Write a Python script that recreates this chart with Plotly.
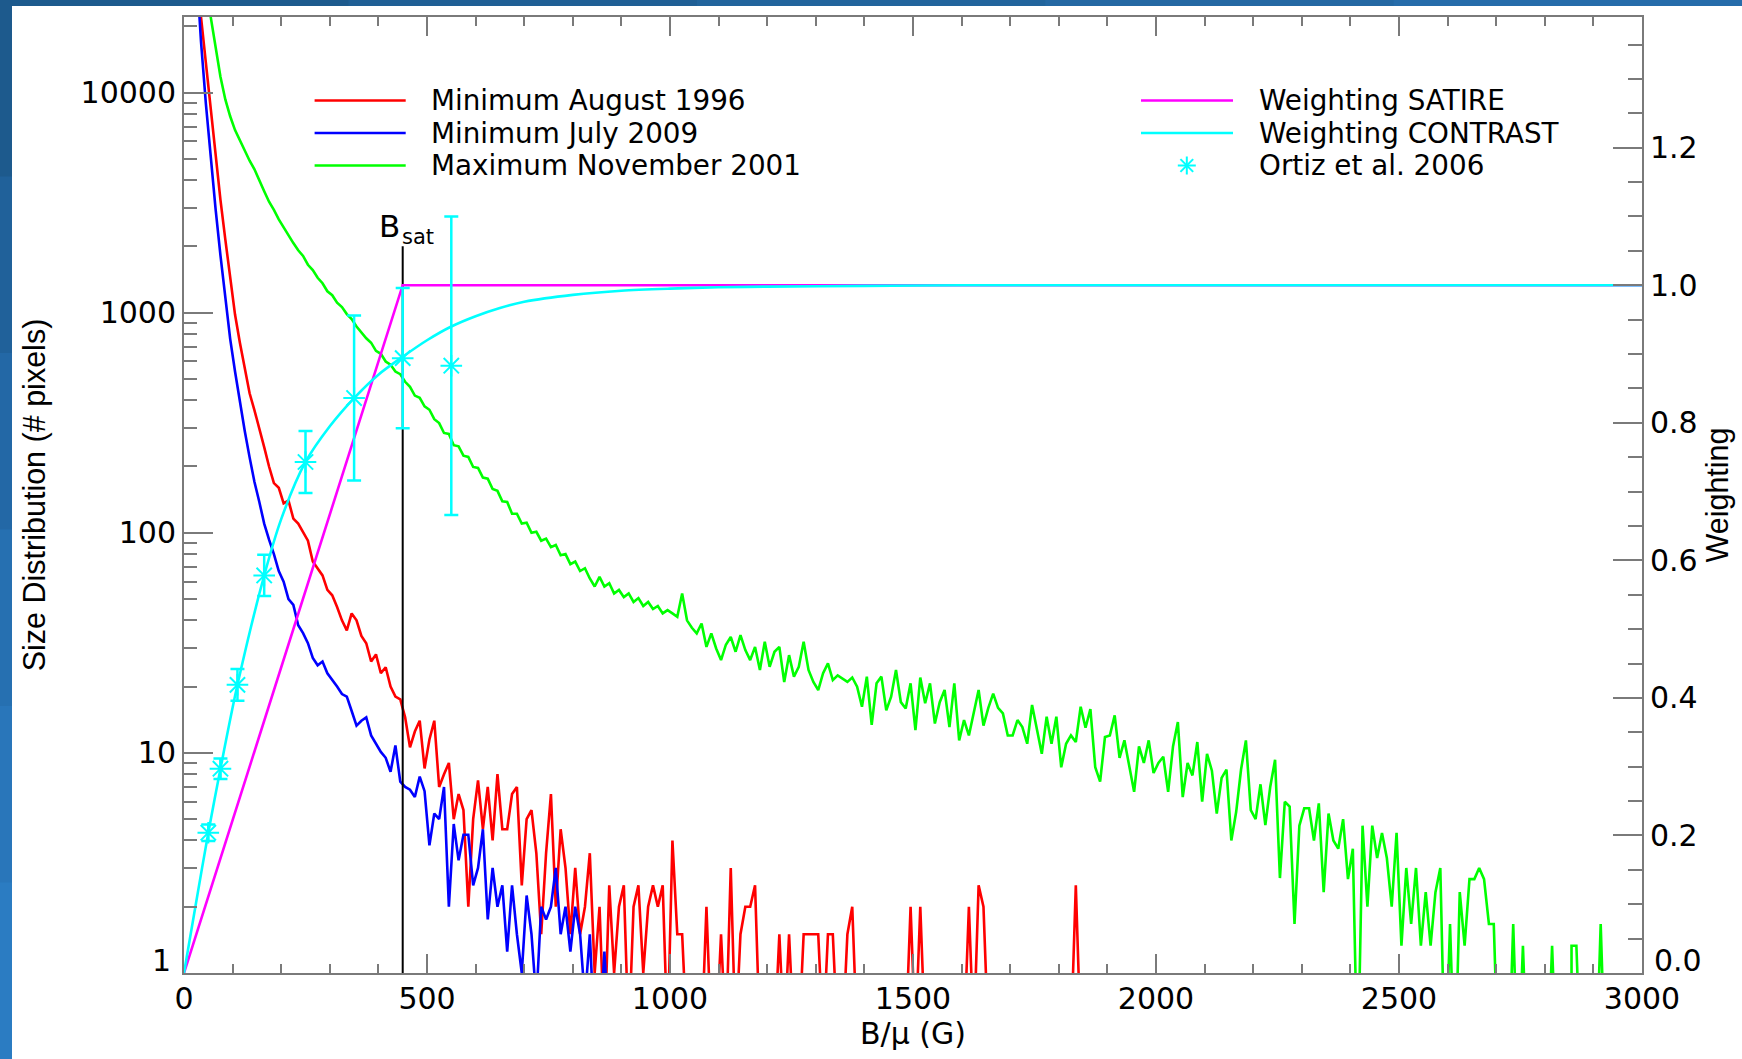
import numpy as np
import plotly.graph_objects as go

# ---------------------------------------------------------------------------
# Size distributions of magnetic elements (pixels per 10 G bin of B/mu)
# ---------------------------------------------------------------------------
BIN_WIDTH = 10      # G
FIRST_BIN = 5       # centre of the first bin, G

MIN_AUG_1996 = [
    100000, 56000, 35000, 22000, 13500, 8300, 5200, 3250, 2150, 1450,
    980, 730, 560, 430, 360, 300, 245, 200, 168, 160,
    136, 140, 116, 110, 100, 92, 74, 69, 64, 55,
    52, 46, 40, 36, 43, 40, 34, 31.5, 26, 28,
    23, 24.5, 20, 18, 17.5, 14.5, 10.6, 12.5, 14, 8.5,
    11.5, 14, 7, 8, 9, 5, 6.5, 5.5, 2, 5,
    7.5, 4.5, 7, 4, 8, 4.5, 4.5, 6.5, 7, 2.5,
    5, 5.5, 3.5, 1.5, 3.5, 6.5, 2, 4.5, 3, 1.5,
    3, 1.5, 2, 3.5, 1, 2, 0.5, 2.5, 1, 2,
    2.5, 0.5, 2, 2.5, 1, 2, 2.5, 2, 2.5, 0.5,
    4, 1.5, 1.5, 0.5, 0.5, 0.5, 0.5, 2, 0.5, 0.5,
    1.5, 0.5, 3, 0.5, 1.5, 2, 2, 2.5, 0.5, 0.5,
    0.5, 0.5, 1.5, 0.5, 1.5, 0.5, 0.5, 1.5, 1.5, 1.5,
    1.5, 0.5, 1.5, 1.5, 0.5, 0.5, 1.5, 2, 0.5, 0.5,
    0.5, 0.5, 0.5, 0.5, 0.5, 0.5, 0.5, 0.5, 0.5, 2,
    0.5, 2, 0.5, 0.5, 0.5, 0.5, 0.5, 0.5, 0.5, 0.5,
    0.5, 2, 0.5, 2.5, 2, 0.5, 0.5, 0.5, 0.5, 0.5,
    0.5, 0.5, 0.5, 0.5, 0.5, 0.5, 0.5, 0.5, 0.5, 0.5,
    0.5, 0.5, 0.5, 2.5, 0.5,
]

MIN_JUL_2009 = [
    200000, 90000, 40000, 17000, 8900, 5000, 2950, 1820, 1150, 760,
    540, 390, 290, 220, 170, 138, 110, 93, 80, 67,
    60, 50, 47, 38, 35, 31.5, 27, 25, 26, 23,
    21.5, 20, 18.5, 18, 15.5, 13.3, 14, 14.5, 12, 11,
    10.1, 9.5, 8.2, 10.8, 7.4, 7, 6.8, 6.3, 7.8, 6.7,
    3.8, 5.3, 5, 7, 2, 4.75, 3.25, 4.25, 4.25, 2.5,
    3, 4.5, 1.75, 3, 2, 2.5, 1.25, 2.5, 1.5, 1,
    2.25, 1.5, 0.75, 2, 1.75, 2, 3, 1.5, 2, 1.25,
    2, 1.5, 0.75, 1.5, 0.5, 0.5, 1.25, 0.5, 0.25,
]

MAX_NOV_2001 = [
    250000, 120000, 75000, 48000, 32000, 22000, 15800, 11800, 9300, 7800,
    6750, 6050, 5480, 4900, 4480, 3970, 3560, 3190, 2930, 2650,
    2440, 2230, 2070, 1920, 1810, 1650, 1560, 1440, 1360, 1250,
    1200, 1110, 1060, 985, 935, 865, 815, 765, 730, 670,
    650, 600, 580, 540, 525, 485, 460, 420, 410, 375,
    362, 328, 315, 284, 281, 250, 247, 224, 221, 199,
    197, 178, 176, 158, 155, 139, 138, 122, 122, 110,
    111, 100, 101, 92, 94, 86, 88, 79, 80, 72,
    74, 67, 69, 62, 57, 63, 57, 59, 53, 55,
    51, 53, 48.5, 50.5, 46.5, 48.5, 45, 46.5, 43, 44.5,
    43, 41.5, 53, 40, 37, 34.9, 38.7, 30.3, 34.9, 29.8,
    26.4, 31, 33.6, 28.8, 34.3, 29.3, 26.4, 30.3, 23.8, 32,
    24.6, 28.8, 30.3, 21, 27.8, 22.2, 24.6, 32, 23.8, 21,
    19.3, 23, 25.5, 21.4, 22.5, 21.7, 21, 22, 20, 16.2,
    22.2, 13.4, 20.7, 22.2, 15.6, 18, 23.8, 17, 15.9, 20.7,
    12.7, 22, 16.8, 20.7, 13.6, 17, 19.3, 13.1, 20.7, 11.4,
    14.1, 12, 15.1, 19.3, 13.3, 16, 18.6, 16, 15.1, 12,
    12, 14.1, 13.1, 11, 16.5, 13, 9.9, 14.6, 11, 14.6,
    8.6, 11, 12, 11.2, 16.2, 13, 15.8, 8.6, 7.4, 11.8,
    12, 14.8, 9.5, 11.4, 8.6, 6.65, 10.7, 9, 11.4, 8.1,
    9, 9.6, 6.65, 10.7, 13.8, 6.3, 9, 7.9, 11.2, 6,
    9.9, 8.3, 5.3, 7.7, 8.4, 4.0, 5.4, 8.4, 11.4, 5.5,
    5, 7.2, 4.7, 7, 9.3, 2.7, 6, 5.7, 1.67, 4.67,
    5.6, 5.6, 4.0, 5.9, 2.33, 5.3, 4.0, 3.67, 5.0, 2.67,
    3.67, 0.33, 4.67, 2.0, 4.67, 3.33, 4.33, 3.33, 2.0, 4.33,
    1.33, 3.0, 1.67, 3.0, 1.33, 2.33, 1.33, 2.33, 3.0, 0.33,
    1.67, 0.33, 2.33, 1.33, 2.67, 2.67, 3.0, 2.67, 1.67, 1.67,
    0.33, 0, 0.33, 1.67, 0.33, 1.33, 0.33, 0, 0, 0,
    0.33, 1.33, 0.33, 0, 0, 1.33, 1.33, 0.33, 0, 0,
    0.33, 1.67, 0.33, 0,
]

# ---------------------------------------------------------------------------
# Weighting functions (right axis)
# ---------------------------------------------------------------------------
SATIRE_B = [0, 450, 3000]
SATIRE_W = [0.0, 1.0, 1.0]

CONTRAST_B = [0, 25, 50, 75, 110, 165, 200, 250, 300, 350, 400, 450, 500,
              550, 600, 650, 700, 800, 900, 1000, 1100, 1200, 1400, 1600,
              2000, 3000]
CONTRAST_W = [0.0, 0.103, 0.204, 0.297, 0.419, 0.578, 0.660, 0.743, 0.795,
              0.836, 0.870, 0.896, 0.920, 0.940, 0.955, 0.967, 0.976, 0.986,
              0.992, 0.995, 0.997, 0.998, 0.999, 1.0, 1.0, 1.0]

ORTIZ_B = [50, 75, 110, 165, 250, 350, 450, 550]
ORTIZ_W = [0.204, 0.297, 0.419, 0.578, 0.743, 0.836, 0.894, 0.883]
ORTIZ_ERR = [0.012, 0.015, 0.023, 0.030, 0.045, 0.12, 0.102, 0.217]

B_SAT = 450          # G
B_SAT_TOP = 2000     # pixels, upper end of the marker line

COUNT_TICKS = [10, 100, 1000, 10000]
WEIGHT_TICKS = [0.2, 0.4, 0.6, 0.8, 1.0, 1.2]

# ---------------------------------------------------------------------------
# Styling
# ---------------------------------------------------------------------------
RED, BLUE, GREEN = "#ff0000", "#0000ff", "#00ff00"
MAGENTA, CYAN = "#ff00ff", "#00ffff"
AXIS_GREY = "#7a7a7a"
TXT_FONT = "DejaVu Sans"
VERT_FONT = "Liberation Sans"
KEY_SIZE = 27.8

W, H = 1742, 1059
ML, MR, MT, MB = 184, 100, 17, 86
PW, PH = W - ML - MR, H - MT - MB


def fx(px):
    return (px - ML) / PW


def fy(py):
    return (H - MB - py) / PH


def bins(values):
    return FIRST_BIN + BIN_WIDTH * np.arange(len(values))


fig = go.Figure()

for name, vals, col in [
    ("Minimum August 1996", MIN_AUG_1996, RED),
    ("Minimum July 2009", MIN_JUL_2009, BLUE),
    ("Maximum November 2001", MAX_NOV_2001, GREEN),
]:
    fig.add_trace(go.Scatter(
        x=bins(vals), y=vals, name=name, mode="lines",
        line=dict(color=col, width=2.6), showlegend=False, yaxis="y",
    ))

# B_sat marker line
fig.add_trace(go.Scatter(
    x=[B_SAT, B_SAT], y=[1, B_SAT_TOP], mode="lines",
    line=dict(color="black", width=2), showlegend=False, name="B_sat",
))

fig.add_trace(go.Scatter(
    x=SATIRE_B, y=SATIRE_W, name="Weighting SATIRE", mode="lines",
    line=dict(color=MAGENTA, width=2.6), yaxis="y2", showlegend=False,
))
fig.add_trace(go.Scatter(
    x=CONTRAST_B, y=CONTRAST_W, name="Weighting CONTRAST", mode="lines",
    line=dict(color=CYAN, width=2.6, shape="spline", smoothing=0.8),
    yaxis="y2", showlegend=False,
))
fig.add_trace(go.Scatter(
    x=ORTIZ_B, y=ORTIZ_W, name="Ortiz et al. 2006", mode="markers",
    marker=dict(symbol="asterisk-open", size=18, color=CYAN,
                line=dict(color=CYAN, width=2)),
    error_y=dict(type="data", array=ORTIZ_ERR, color=CYAN,
                 thickness=2.5, width=7),
    yaxis="y2", showlegend=False,
))

minor_log = [m * 10 ** k for k in range(5) for m in range(2, 10)
             if m * 10 ** k < 22000]

tick_font = dict(family=TXT_FONT, size=30, color="black")

fig.update_layout(
    template="none",
    width=W, height=H,
    margin=dict(l=ML, r=MR, t=MT, b=MB, pad=0),
    paper_bgcolor="white", plot_bgcolor="white",
    font=dict(family=TXT_FONT, color="black"),
    showlegend=False,
    xaxis=dict(
        range=[0, 3000], tickmode="linear", tick0=0, dtick=500,
        ticks="inside", ticklen=19, tickwidth=2, tickcolor=AXIS_GREY,
        minor=dict(ticks="inside", tickmode="linear", tick0=0, dtick=100,
                   ticklen=9, tickwidth=2, tickcolor=AXIS_GREY,
                   showgrid=False),
        showline=True, linecolor=AXIS_GREY, linewidth=2, mirror="ticks",
        showgrid=False, zeroline=False, automargin=False,
        tickfont=tick_font, ticklabelstandoff=-2,
        title=dict(text="B/μ (G)", standoff=6,
                   font=dict(family=TXT_FONT, size=30, color="black")),
    ),
    yaxis=dict(
        type="log", range=[0, 4.343],
        tickmode="array", tickvals=COUNT_TICKS,
        ticktext=[str(v) for v in COUNT_TICKS],
        ticks="inside", ticklen=29, tickwidth=2, tickcolor=AXIS_GREY,
        minor=dict(ticks="inside", tickmode="array", tickvals=minor_log,
                   ticklen=13, tickwidth=2, tickcolor=AXIS_GREY,
                   showgrid=False),
        showline=True, linecolor=AXIS_GREY, linewidth=2, mirror=False,
        showgrid=False, zeroline=False, automargin=False,
        tickfont=tick_font, ticklabelstandoff=0,
        title=dict(text="Size Distribution (# pixels)", standoff=26,
                   font=dict(family=VERT_FONT, size=30.5, color="black")),
    ),
    yaxis2=dict(
        overlaying="y", side="right", range=[0, 1.39],
        tickmode="array", tickvals=WEIGHT_TICKS,
        ticktext=[f"{v:.1f}" for v in WEIGHT_TICKS],
        ticks="inside", ticklen=29, tickwidth=2, tickcolor=AXIS_GREY,
        minor=dict(ticks="inside", tickmode="linear", tick0=0, dtick=0.05,
                   ticklen=14, tickwidth=2, tickcolor=AXIS_GREY,
                   showgrid=False),
        showline=True, linecolor=AXIS_GREY, linewidth=2,
        showgrid=False, zeroline=False, automargin=False,
        tickfont=tick_font, ticklabelstandoff=0,
        title=dict(text="Weighting", standoff=10,
                   font=dict(family=VERT_FONT, size=30.5, color="black")),
    ),
)

shapes = []
annotations = []

# Slide frame: blue bands along the top and left edges of the page
top_cols = ["#1d5a8d", "#1f5f95", "#21649c", "#2468a3", "#266caa"]
for i, col in enumerate(top_cols):
    x0 = i * W / len(top_cols)
    x1 = (i + 1) * W / len(top_cols) + 2
    shapes.append(dict(type="rect", xref="paper", yref="paper",
                       x0=fx(x0), x1=fx(x1), y0=fy(6), y1=fy(0),
                       fillcolor=col, line=dict(width=0), layer="below"))
left_cols = ["#1d5a8d", "#20619a", "#2368a6", "#2670b1", "#2976ba", "#2b7cc2"]
for i, col in enumerate(left_cols):
    y0 = i * H / len(left_cols)
    y1 = (i + 1) * H / len(left_cols) + 2
    shapes.append(dict(type="rect", xref="paper", yref="paper",
                       x0=fx(0), x1=fx(12), y0=fy(y1), y1=fy(y0),
                       fillcolor=col, line=dict(width=0), layer="below"))

# The lowest labels of both vertical axes sit just above the frame corner
annotations.append(dict(xref="paper", yref="y", x=fx(173), y=0,
                        xanchor="right", yanchor="bottom", showarrow=False,
                        text="1", yshift=-7, font=tick_font))
annotations.append(dict(xref="paper", yref="y2", x=fx(1652), y=0,
                        xanchor="left", yanchor="bottom", showarrow=False,
                        text="0.0", yshift=-7, font=tick_font))

# Key, left block
left_key = [("Minimum August 1996", RED, 100.5),
            ("Minimum July 2009", BLUE, 133.0),
            ("Maximum November 2001", GREEN, 165.5)]
for label, col, py in left_key:
    shapes.append(dict(type="line", xref="paper", yref="paper",
                       x0=fx(314.6), x1=fx(405.7), y0=fy(py), y1=fy(py),
                       line=dict(color=col, width=2.6)))
    annotations.append(dict(xref="paper", yref="paper", x=fx(429.4), y=fy(py),
                            xanchor="left", yanchor="middle", showarrow=False,
                            text=label,
                            font=dict(family=TXT_FONT, size=KEY_SIZE,
                                      color="black")))

# Key, right block
right_key = [("Weighting SATIRE", MAGENTA, 100.5, "line"),
             ("Weighting CONTRAST", CYAN, 133.0, "line"),
             ("Ortiz et al. 2006", CYAN, 165.5, "star")]
for label, col, py, kind in right_key:
    if kind == "line":
        shapes.append(dict(type="line", xref="paper", yref="paper",
                           x0=fx(1141), x1=fx(1233), y0=fy(py), y1=fy(py),
                           line=dict(color=col, width=2.6)))
    else:
        cx, r = 1186.8, 9
        d = r * 0.7071
        for dx, dy in [(r, 0), (0, r), (d, d), (d, -d)]:
            shapes.append(dict(type="line", xref="paper", yref="paper",
                               x0=fx(cx - dx), x1=fx(cx + dx),
                               y0=fy(py - dy), y1=fy(py + dy),
                               line=dict(color=col, width=2)))
    annotations.append(dict(xref="paper", yref="paper", x=fx(1256.8), y=fy(py),
                            xanchor="left", yanchor="middle", showarrow=False,
                            text=label,
                            font=dict(family=TXT_FONT, size=KEY_SIZE,
                                      color="black")))

# B_sat label above its marker line: capital B with a smaller "sat" below right
annotations.append(dict(xref="x", yref="y", x=B_SAT, y=np.log10(B_SAT_TOP),
                        xanchor="right", yanchor="bottom", showarrow=False,
                        text="B", xshift=-1, yshift=0,
                        font=dict(family=TXT_FONT, size=31, color="black")))
annotations.append(dict(xref="x", yref="y", x=B_SAT, y=np.log10(B_SAT_TOP),
                        xanchor="left", yanchor="bottom", showarrow=False,
                        text="sat", xshift=-3, yshift=-5,
                        font=dict(family=TXT_FONT, size=21, color="black")))

fig.update_layout(shapes=shapes, annotations=annotations)

fig.write_html("out.html")
